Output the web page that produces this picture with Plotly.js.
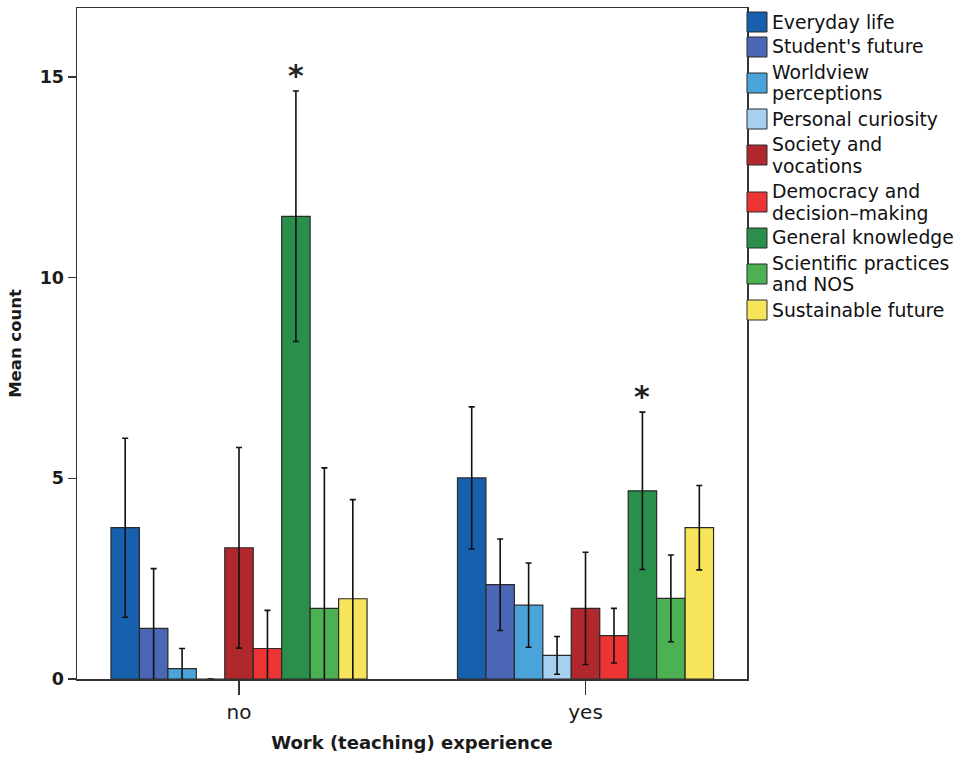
<!DOCTYPE html>
<html>
<head>
<meta charset="utf-8">
<script src="https://cdn.plot.ly/plotly-3.0.1.min.js"></script>
<style>html,body{margin:0;padding:0;background:#fff;}#chart{width:973px;height:758px;}</style>
</head>
<body>
<div id="chart"></div>
<script>
// ---- data ----
const categories = ['no', 'yes'];
const seriesNames = ['Everyday life', "Student's future", 'Worldview perceptions', 'Personal curiosity',
  'Society and vocations', 'Democracy and decision-making', 'General knowledge',
  'Scientific practices and NOS', 'Sustainable future'];
const legendLines = [['Everyday life'], ["Student's future"], ['Worldview', 'perceptions'], ['Personal curiosity'],
  ['Society and', 'vocations'], ['Democracy and', 'decision\u2013making'], ['General knowledge'],
  ['Scientific practices', 'and NOS'], ['Sustainable future']];
const meanNo  = [3.77, 1.26, 0.26, 0.00, 3.27, 0.76, 11.53, 1.76, 2.00];
const meanYes = [5.01, 2.35, 1.84, 0.59, 1.76, 1.08, 4.69, 2.01, 3.77];
const errNo   = [2.23, 1.49, 0.50, 0.00, 2.50, 0.95, 3.12, 3.50, 2.47];
const errYes  = [1.77, 1.14, 1.05, 0.47, 1.40, 0.68, 1.96, 1.08, 1.05];
const colors = ['#1760ad', '#4a66b5', '#4aa3d9', '#a6d0f0', '#b0282c', '#ec3434', '#2a8f4b', '#4bb152', '#f6e45a'];
const significant = [{cat: 0, series: 6}, {cat: 1, series: 6}];

// ---- geometry ----
const W = 973, H = 758;
const mL = 77, mR = 226, mT = 8, mB = 79;
const plotW = W - mL - mR, plotH = H - mT - mB;
const bargap = 0.261;
const FONT = 'DejaVu Sans, Verdana, sans-serif';

const traces = seriesNames.map((name, i) => ({
  type: 'bar',
  name: name,
  x: categories,
  y: [meanNo[i], meanYes[i]],
  marker: {color: colors[i], line: {color: '#2a2a2a', width: 1.2}},
  error_y: {type: 'data', array: [errNo[i], errYes[i]], visible: true, color: '#111', thickness: 1.6, width: 3},
  showlegend: false,
  hoverinfo: 'x+y+name'
}));

// asterisk annotations placed on the category axis
const nS = seriesNames.length;
const barW = (1 - bargap) / nS;
const annotations = significant.map(s => {
  const m = s.cat === 0 ? meanNo[s.series] : meanYes[s.series];
  const e = s.cat === 0 ? errNo[s.series] : errYes[s.series];
  return {
    x: s.cat + (s.series - (nS - 1) / 2) * barW, y: m + e,
    xref: 'x', yref: 'y', text: '*', showarrow: false,
    yanchor: 'bottom', yshift: -4,
    font: {family: FONT, size: 30, weight: 'bold', color: '#222'}
  };
});

// custom legend (square swatches + text) in paper coordinates
const shapes = [];
const py2paper = py => (H - mB - py) / plotH;
const px2paper = px => (px - mL) / plotW;
let lineY = 22;
legendLines.forEach((lines, i) => {
  const ys = [];
  lines.forEach((ln, j) => {
    if (j > 0) lineY += 22;
    ys.push(lineY);
    annotations.push({
      x: px2paper(771), y: py2paper(lineY), xref: 'paper', yref: 'paper',
      xanchor: 'left', yanchor: 'middle', text: ln, showarrow: false,
      borderpad: 0,
      font: {family: FONT, size: 18.8, color: '#111'}
    });
  });
  const cy = ys.reduce((a, b) => a + b, 0) / ys.length;
  shapes.push({
    type: 'rect', xref: 'paper', yref: 'paper',
    x0: px2paper(747), x1: px2paper(767), y0: py2paper(cy - 10), y1: py2paper(cy + 10),
    fillcolor: colors[i], line: {color: '#2a2a2a', width: 1}
  });
  lineY += 25;
});

const layout = {
  width: W, height: H,
  margin: {l: mL, r: mR, t: mT, b: mB, pad: 0},
  paper_bgcolor: '#fff', plot_bgcolor: '#fff',
  barmode: 'group', bargap: bargap, bargroupgap: 0,
  showlegend: false,
  font: {family: FONT, color: '#1a1a1a'},
  xaxis: {
    type: 'category', range: [-0.4675, 1.466],
    showline: true, mirror: true, linecolor: '#333', linewidth: 1.5,
    ticks: 'outside', ticklen: 14, tickwidth: 1.3, tickcolor: '#333',
    tickfont: {family: FONT, size: 20, color: '#1a1a1a'},
    showgrid: false, zeroline: false,
    title: {text: 'Work (teaching) experience', font: {family: FONT, size: 18, weight: 'bold', color: '#1a1a1a'}, standoff: 14}
  },
  yaxis: {
    range: [0, 16.72], tickvals: [0, 5, 10, 15], ticktext: ['0', '5', '10', '15'],
    showline: true, mirror: true, linecolor: '#333', linewidth: 1.5,
    ticks: 'outside', ticklen: 8, tickwidth: 1.3, tickcolor: '#333',
    tickfont: {family: FONT, size: 17.5, weight: 'bold', color: '#1a1a1a'},
    showgrid: false, zeroline: false,
    title: {text: 'Mean count', font: {family: FONT, size: 16.5, weight: 'bold', color: '#1a1a1a'}, standoff: 14}
  },
  annotations: annotations,
  shapes: shapes
};

Plotly.newPlot('chart', traces, layout, {displayModeBar: false, staticPlot: true});
</script>
</body>
</html>
